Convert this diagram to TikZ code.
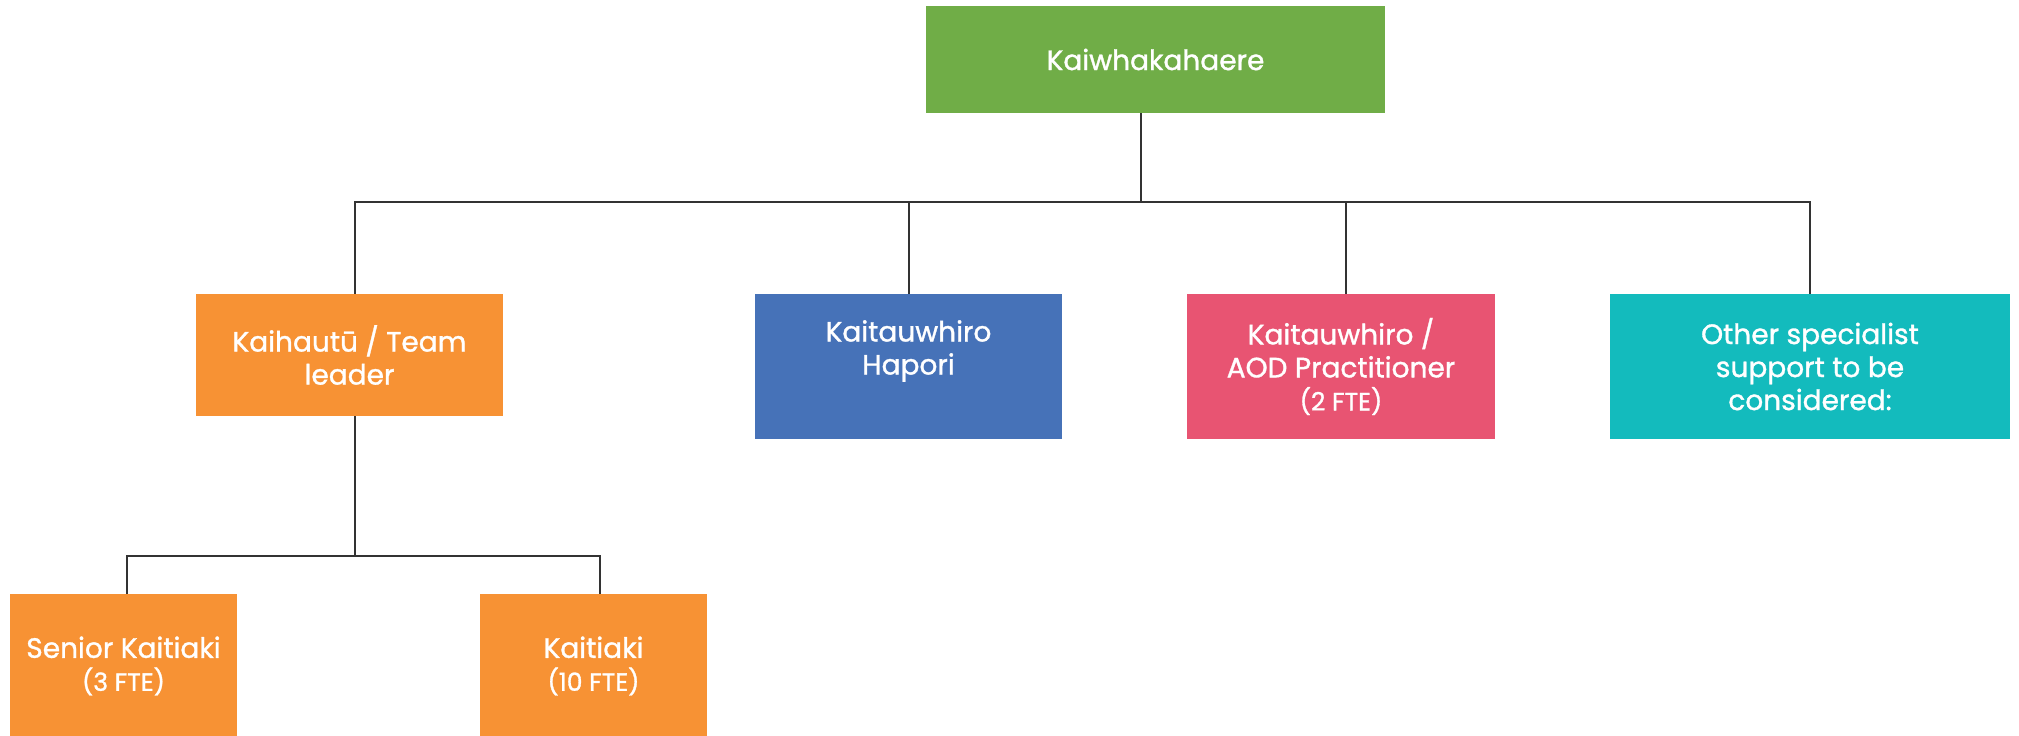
\documentclass[tikz,border=0pt]{standalone}
\usepackage{fontspec}
\setmainfont{Poppins}[FakeBold=1.2]
\definecolor{cgreen}{HTML}{70AD47}
\definecolor{corange}{HTML}{F79234}
\definecolor{cblue}{HTML}{4672B8}
\definecolor{cpink}{HTML}{E85472}
\definecolor{cteal}{HTML}{13BBBD}
\definecolor{cline}{HTML}{333333}
\tikzset{
  box/.style={draw=none, inner sep=0pt, align=center, text=white,
    font=\fontsize{14}{16.5}\selectfont},
  conn/.style={draw=cline, line width=1pt}
}
\newcommand{\smalltxt}[1]{{\fontsize{12.5}{15.5}\selectfont #1}}
\begin{document}
\begin{tikzpicture}[x=0.5pt,y=-0.5pt]
\useasboundingbox (0,0) rectangle (2019,735);
\node[box, fill=cgreen, minimum width=229.5pt, minimum height=53.5pt] (top) at (1155.5,59.5) {Kaiwhakahaere};
\node[box, fill=corange, minimum width=153.5pt, minimum height=61pt] (kh) at (349.5,355) {Kaihautū / Team\\leader};
\node[box, fill=cblue, minimum width=153.5pt, minimum height=72.5pt] (blue) at (908.5,366.5) {};
\node[box] (bluet) at (908.5,351) {Kaitauwhiro\\Hapori};
\node[box, fill=cpink, minimum width=154pt, minimum height=72.5pt] (pink) at (1341,366.5) {Kaitauwhiro /\\AOD Practitioner\\\smalltxt{(2 FTE)}};
\node[box, fill=cteal, minimum width=200pt, minimum height=72.5pt] (teal) at (1810,366.5) {Other specialist\\support to be\\considered:};
\node[box, fill=corange, minimum width=113.5pt, minimum height=72pt] (sen) at (123.5,666) {Senior Kaitiaki\\\smalltxt{(3 FTE)}};
\node[box, fill=corange, minimum width=113.5pt, minimum height=72pt] (kt) at (593.5,666) {Kaitiaki\\\smalltxt{(10 FTE)}};
\coordinate (bus) at (0,202);
\coordinate (bus2) at (0,556);
\draw[conn] ([xshift=-7.25pt]top.south) -- ([xshift=-7.25pt]top.south |- bus);
\draw[conn] ([xshift=2.75pt]kh.north) |- (teal.north |- bus) -- (teal.north);
\draw[conn] (blue.north) -- (blue.north |- bus);
\draw[conn] ([xshift=2.5pt]pink.north) -- ([xshift=2.5pt]pink.north |- bus);
\draw[conn] ([xshift=2.75pt]kh.south) -- ([xshift=2.75pt]kh.south |- bus2);
\draw[conn] ([xshift=1.75pt]sen.north) |- ([xshift=3.25pt]kt.north |- bus2) -- ([xshift=3.25pt]kt.north);
\end{tikzpicture}
\end{document}
